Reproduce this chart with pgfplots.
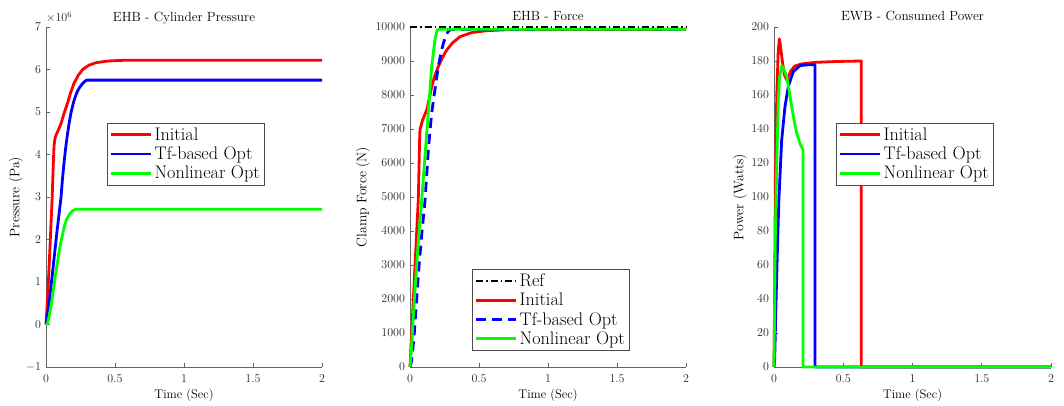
\documentclass[border=0pt]{standalone}
\usepackage{fontspec}
\usepackage{pgfplots}
\pgfplotsset{compat=1.18}
\newcommand{\tfont}{\fontsize{13.3}{15}\selectfont}
\newcommand{\xfont}{\fontsize{12.5}{15}\selectfont}
\tikzset{
 ttl/.style={anchor=base, inner sep=0pt, font=\tfont},
 xlb/.style={anchor=base, inner sep=0pt, font=\xfont},
}
\begin{document}
\begin{tikzpicture}
\useasboundingbox (0pt,0pt) rectangle (1064pt,406pt);
\pgfplotsset{
 lw/.style={line width=2.8pt, line join=round},
 mystyle/.style={
  scale only axis, width=276pt, height=340pt, anchor=south west,
  axis x line=bottom, axis y line=left,
  axis line style={black!60, line width=0.8pt, -},
  tick align=inside, major tick length=4pt,
  tick style={black!60, line width=0.8pt},
  xmin=0, xmax=2, xtick={0,0.5,1,1.5,2},
  scaled y ticks=false, scaled x ticks=false,
  ticklabel style={font=\fontsize{12}{14}\selectfont, text=black!85},
  xticklabel style={yshift=-4pt},
  yticklabel style={xshift=-1.5pt},
  /pgf/number format/1000 sep={},
  ylabel style={font=\fontsize{13.8}{15}\selectfont, anchor=south, inner sep=0pt},
  legend style={font=\fontsize{18.2}{20}\selectfont, draw=black!70, line width=0.6pt, fill=white, inner sep=2.5pt, row sep=1pt, anchor=north west},
  legend cell align=left,
  legend image code/.code={\draw[##1] (0pt,0pt) -- (40pt,0pt);},
  clip=false,
 },
}
% Panel 1
\begin{axis}[mystyle, at={(46pt,39pt)},
  ymin=-1, ymax=7, ytick={-1,0,1,2,3,4,5,6,7},
  ylabel={Pressure (Pa)},
  ylabel style={at={([xshift=-23pt]axis description cs:0,0.5)}},
  legend style={at={(0.221,0.718)}}]
\addplot[red, lw] coordinates {(0,0)(0.01,0.55)(0.02,1.2)(0.03,1.9)(0.038,2.5)(0.045,3.0)(0.052,3.7)(0.058,4.2)(0.065,4.38)(0.072,4.45)(0.09,4.58)(0.108,4.72)(0.13,4.96)(0.157,5.22)(0.18,5.47)(0.205,5.69)(0.235,5.87)(0.266,6.0)(0.31,6.1)(0.363,6.16)(0.45,6.2)(0.55,6.215)(0.65,6.22)(2,6.22)};
\addplot[blue, lw] coordinates {(0,0)(0.01,0.2)(0.02,0.45)(0.04,1.0)(0.06,1.6)(0.08,2.2)(0.1,2.75)(0.109,3.0)(0.12,3.45)(0.133,3.88)(0.145,4.22)(0.157,4.51)(0.17,4.78)(0.181,4.98)(0.195,5.17)(0.205,5.29)(0.225,5.47)(0.242,5.57)(0.265,5.67)(0.28,5.72)(0.295,5.75)(2,5.75)};
\addplot[green, lw] coordinates {(0,0)(0.01,0.02)(0.02,0.15)(0.04,0.5)(0.06,0.98)(0.08,1.4)(0.097,1.76)(0.115,2.05)(0.133,2.31)(0.15,2.48)(0.169,2.59)(0.19,2.67)(0.213,2.71)(2,2.71)};
\legend{Initial, Tf-based Opt, Nonlinear Opt}
\node[anchor=south west, inner sep=0pt, font=\fontsize{12}{14}\selectfont, text=black!85] at ([yshift=4pt]rel axis cs:0,1) {$\times10^{6}$};
\node[ttl] at ([yshift=6pt]rel axis cs:0.5,1) {EHB - Cylinder Pressure};
\node[xlb] at ([yshift=-32pt]rel axis cs:0.5,0) {Time (Sec)};
\end{axis}
% Panel 2
\begin{axis}[mystyle, at={(410pt,39pt)},
  ymin=0, ymax=10000, ytick={0,1000,...,10000},
  ylabel={Clamp Force (N)},
  ylabel style={at={([xshift=-40pt]axis description cs:0,0.5)}},
  legend style={at={(0.225,0.288)}}]
\addplot[black, lw, dash pattern=on 7pt off 3pt on 1.5pt off 3pt] coordinates {(0,10000)(2,10000)};
\addplot[red, lw] coordinates {(0,0)(0.012,1000)(0.024,1970)(0.036,2950)(0.048,3930)(0.06,4912)(0.065,5800)(0.069,6600)(0.072,6970)(0.09,7250)(0.121,7559)(0.14,7900)(0.157,8244)(0.18,8570)(0.205,8832)(0.235,9100)(0.266,9323)(0.31,9540)(0.362,9714)(0.45,9840)(0.556,9891)(0.7,9920)(2,9932)};
\addplot[blue, lw, dash pattern=on 10pt off 6pt] coordinates {(0,0)(0.01,150)(0.02,500)(0.031,990)(0.045,1800)(0.065,2950)(0.085,3900)(0.109,4900)(0.121,5650)(0.133,6382)(0.145,6950)(0.157,7461)(0.17,7850)(0.181,8166)(0.205,8832)(0.225,9250)(0.242,9520)(0.261,9764)(0.28,9890)(0.3,9930)(2,9932)};
\addplot[green, lw] coordinates {(0,0)(0.01,500)(0.031,1970)(0.06,3700)(0.085,4912)(0.121,6872)(0.157,8832)(0.18,9600)(0.195,9880)(0.205,9932)(2,9932)};
\legend{Ref, Initial, Tf-based Opt, Nonlinear Opt}
\node[ttl] at ([yshift=6pt]rel axis cs:0.5,1) {EHB - Force};
\node[xlb] at ([yshift=-32pt]rel axis cs:0.5,0) {Time (Sec)};
\end{axis}
% Panel 3
\begin{axis}[mystyle, at={(774pt,39pt)}, width=277pt,
  ymin=0, ymax=200, ytick={0,20,...,200},
  ylabel={Power (Watts)},
  ylabel style={at={([xshift=-27pt]axis description cs:0,0.5)}},
  legend style={at={(0.224,0.718)}}]
\addplot[red, lw] coordinates {(0,0)(0.005,50)(0.01,110)(0.02,160)(0.03,185)(0.038,193)(0.045,190)(0.06,180)(0.075,172)(0.09,169)(0.1,170)(0.12,174)(0.15,177)(0.2,178.3)(0.3,179.2)(0.45,179.7)(0.63,180)(0.63,0)(2,0)};
\addplot[blue, lw] coordinates {(0,0)(0.005,5)(0.015,40)(0.025,70)(0.035,98)(0.055,133)(0.079,153)(0.103,165)(0.139,173.7)(0.188,177.3)(0.25,177.8)(0.296,177.8)(0.296,0)(2,0)};
\addplot[green, lw] coordinates {(0,0)(0.005,40)(0.01,80)(0.02,120)(0.031,157)(0.04,170)(0.055,177.3)(0.07,175.5)(0.092,170.8)(0.11,162)(0.128,153)(0.145,145)(0.164,137.5)(0.19,131)(0.21,127.6)(0.21,0)(2,0)};
\legend{Initial, Tf-based Opt, Nonlinear Opt}
\node[ttl] at ([yshift=6pt]rel axis cs:0.5,1) {EWB - Consumed Power};
\node[xlb] at ([yshift=-32pt]rel axis cs:0.5,0) {Time (Sec)};
\end{axis}
\end{tikzpicture}
\end{document}
